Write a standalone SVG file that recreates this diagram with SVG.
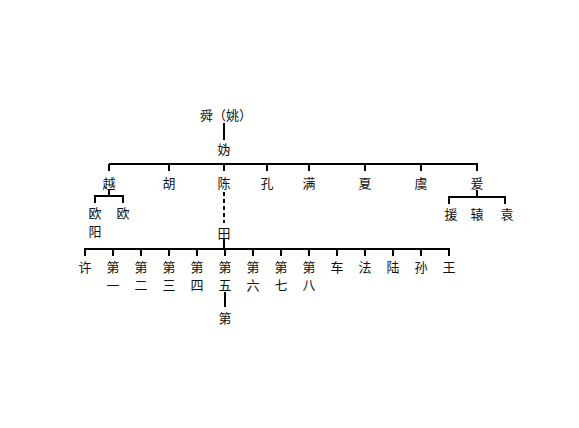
<svg xmlns="http://www.w3.org/2000/svg" width="579" height="428" viewBox="0 0 579 428">
<style>
text{font-family:"Noto Sans CJK SC","Noto Sans CJK JP",sans-serif;font-size:13px;fill:#111;text-anchor:middle;dominant-baseline:central}
.ln{stroke:#000;stroke-width:2;fill:none}
.dash{stroke:#000;stroke-width:2;fill:none;stroke-dasharray:4 3}
</style>
<rect width="579" height="428" fill="#fff"/>
<g id="connectors">
<path class="ln" d="M224 123V140M109 164H478M109 164V171M169 164V171M224 164V171M267 164V171M309 164V171M365 164V171M421 164V171M477 164V171"/>
<path class="ln" d="M109 189V196M95 196H123M95 195V203M123 195V203"/>
<path class="ln" d="M477 190V197M449 197H505M449 196V204M505 196V204"/>
<path class="dash" d="M224 192V223"/>
<path class="ln" d="M224 239V249M85 249H449"/>
<path class="ln" d="M85 248V256M113 248V256M141 248V256M169 248V256M197 248V256M225 248V256M253 248V256M281 248V256M309 248V256M337 248V256M365 248V256M393 248V256M421 248V256M449 248V256"/>
<path class="ln" d="M225 292V307"/>
</g>
<g id="n-shun"><text x="226" y="114">舜（姚）</text></g>
<g id="n-gui"><text x="224" y="148">妫</text></g>
<g id="n-yue"><text x="109" y="182">越</text></g>
<g id="n-hu"><text x="169" y="182">胡</text></g>
<g id="n-chen"><text x="224" y="182">陈</text></g>
<g id="n-kong"><text x="267" y="182">孔</text></g>
<g id="n-man"><text x="309" y="182">满</text></g>
<g id="n-xia"><text x="365" y="182">夏</text></g>
<g id="n-yu"><text x="421" y="182">虞</text></g>
<g id="n-yuan"><text x="477" y="182">爰</text></g>
<g id="n-ouyang"><text x="95" y="212">欧<tspan x="95" dy="18">阳</tspan></text></g>
<g id="n-ou"><text x="123" y="212">欧</text></g>
<g id="n-yuan1"><text x="451" y="213">援</text></g>
<g id="n-yuan2"><text x="477" y="213">辕</text></g>
<g id="n-yuan3"><text x="507" y="213">袁</text></g>
<g id="n-tian"><text x="224" y="232">田</text></g>
<g id="n-xu"><text x="85" y="266">许</text></g>
<g id="n-d1"><text x="113" y="266">第<tspan x="113" dy="18">一</tspan></text></g>
<g id="n-d2"><text x="141" y="266">第<tspan x="141" dy="18">二</tspan></text></g>
<g id="n-d3"><text x="169" y="266">第<tspan x="169" dy="18">三</tspan></text></g>
<g id="n-d4"><text x="197" y="266">第<tspan x="197" dy="18">四</tspan></text></g>
<g id="n-d5"><text x="225" y="266">第<tspan x="225" dy="18">五</tspan></text></g>
<g id="n-d6"><text x="253" y="266">第<tspan x="253" dy="18">六</tspan></text></g>
<g id="n-d7"><text x="281" y="266">第<tspan x="281" dy="18">七</tspan></text></g>
<g id="n-d8"><text x="309" y="266">第<tspan x="309" dy="18">八</tspan></text></g>
<g id="n-che"><text x="337" y="266">车</text></g>
<g id="n-fa"><text x="365" y="266">法</text></g>
<g id="n-lu"><text x="393" y="266">陆</text></g>
<g id="n-sun"><text x="421" y="266">孙</text></g>
<g id="n-wang"><text x="449" y="266">王</text></g>
<g id="n-di"><text x="225" y="317">第</text></g>
</svg>
